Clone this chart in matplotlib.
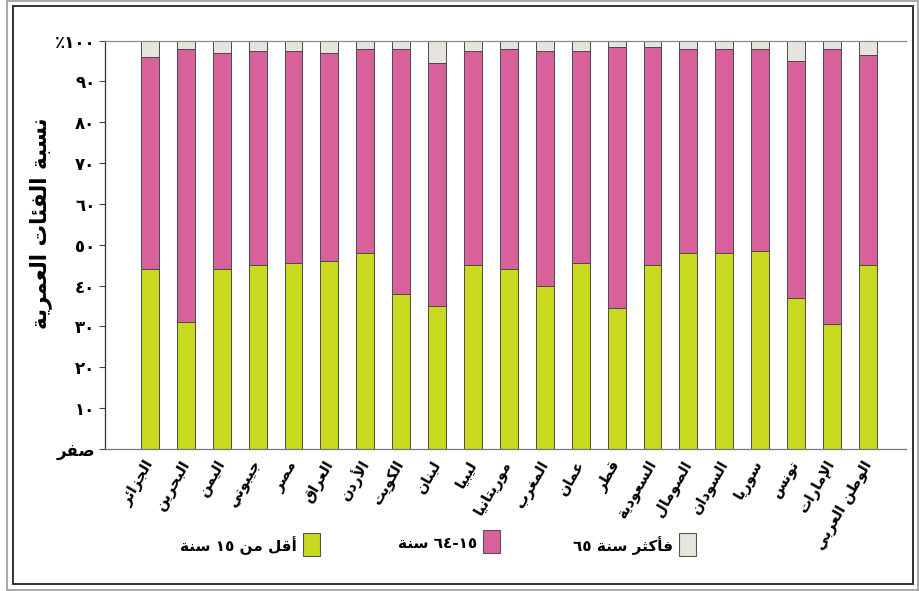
import re
import matplotlib
matplotlib.use('Agg')
import matplotlib.pyplot as plt
from matplotlib.patches import Rectangle

# age structure of the Arab countries, % of population
countries = ['الجزائر', 'البحرين', 'اليمن', 'جيبوتي', 'مصر', 'العراق', 'الأردن',
             'الكويت', 'لبنان', 'ليبيا', 'موريتانيا', 'المغرب', 'عمان', 'قطر',
             'السعودية', 'الصومال', 'السودان', 'سوريا', 'تونس', 'الإمارات',
             'الوطن العربي']
under15 = [44, 31, 44, 45, 45.5, 46, 48, 38, 35, 45, 44, 40, 45.5, 34.5,
           45, 48, 48, 48.5, 37, 30.5, 45]
age15_64 = [52, 67, 53, 52.5, 52, 51, 50, 60, 59.5, 52.5, 54, 57.5, 52, 64,
            53.5, 50, 50, 49.5, 58, 67.5, 51.5]
over65 = [4, 2, 3, 2.5, 2.5, 3, 2, 2, 5.5, 2.5, 2, 2.5, 2.5, 1.5,
          1.5, 2, 2, 2, 5, 2, 3.5]
ytick_vals = [0, 10, 20, 30, 40, 50, 60, 70, 80, 90, 100]
ytick_labels = ['صفر', '١٠', '٢٠', '٣٠', '٤٠', '٥٠', '٦٠', '٧٠', '٨٠', '٩٠', '١٠٠٪']
ylabel = 'نسبة الفئات العمرية'
legend_labels = ['أقل من ١٥ سنة', '١٥-٦٤ سنة', '٦٥ سنة فأكثر']

GREEN = '#c8d91f'
PINK = '#d9619b'
GREY = '#e7e3dd'

# ---- minimal arabic shaping (matplotlib has no bidi / joining) ----
# letter -> (first presentation form, number of forms); 2 = joins to the right only
FORMS = {
    'ء': (0xFE80, 1), 'آ': (0xFE81, 2), 'أ': (0xFE83, 2), 'ؤ': (0xFE85, 2),
    'إ': (0xFE87, 2), 'ئ': (0xFE89, 4), 'ا': (0xFE8D, 2), 'ب': (0xFE8F, 4),
    'ة': (0xFE93, 2), 'ت': (0xFE95, 4), 'ث': (0xFE99, 4), 'ج': (0xFE9D, 4),
    'ح': (0xFEA1, 4), 'خ': (0xFEA5, 4), 'د': (0xFEA9, 2), 'ذ': (0xFEAB, 2),
    'ر': (0xFEAD, 2), 'ز': (0xFEAF, 2), 'س': (0xFEB1, 4), 'ش': (0xFEB5, 4),
    'ص': (0xFEB9, 4), 'ض': (0xFEBD, 4), 'ط': (0xFEC1, 4), 'ظ': (0xFEC5, 4),
    'ع': (0xFEC9, 4), 'غ': (0xFECD, 4), 'ف': (0xFED1, 4), 'ق': (0xFED5, 4),
    'ك': (0xFED9, 4), 'ل': (0xFEDD, 4), 'م': (0xFEE1, 4), 'ن': (0xFEE5, 4),
    'ه': (0xFEE9, 4), 'و': (0xFEED, 2), 'ى': (0xFEEF, 2), 'ي': (0xFEF1, 4),
}
LAM_ALEF = {'آ': 0xFEF5, 'أ': 0xFEF7, 'إ': 0xFEF9, 'ا': 0xFEFB}


def shape(word):
    units = []
    i = 0
    while i < len(word):
        c = word[i]
        if c == 'ل' and i + 1 < len(word) and word[i + 1] in LAM_ALEF:
            units.append((LAM_ALEF[word[i + 1]], 2))
            i += 2
            continue
        units.append(FORMS.get(c, (c, 0)))
        i += 1
    out = []
    for k, (base, n) in enumerate(units):
        if n == 0:
            out.append(base)
            continue
        prev = k > 0 and units[k - 1][1] == 4
        nxt = n == 4 and k + 1 < len(units) and units[k + 1][1] >= 2
        if n == 1:
            off = 0
        elif prev and nxt:
            off = 3
        elif prev:
            off = 1
        elif nxt:
            off = 2
        else:
            off = 0
        out.append(chr(base + off))
    return ''.join(out)


def rtl(text):
    parts = re.findall(r'\d+|\D+', shape(text))
    return ''.join(p if p[0].isdigit() else p[::-1] for p in reversed(parts))


plt.rcParams['font.family'] = ['DejaVu Sans']
plt.rcParams['font.weight'] = 'bold'

W, H = 920, 591
fig = plt.figure(figsize=(W / 100, H / 100), dpi=100)
ax = fig.add_axes([105 / W, 1 - 449 / H, 801 / W, 408.5 / H])

x = list(range(len(countries)))
bottom2 = under15
bottom3 = [a + b for a, b in zip(under15, age15_64)]
kw = dict(width=0.5, edgecolor='#4a4a4a', linewidth=0.7)
ax.bar(x, under15, color=GREEN, **kw)
ax.bar(x, age15_64, bottom=bottom2, color=PINK, **kw)
ax.bar(x, over65, bottom=bottom3, color=GREY, **kw)

ax.set_xlim(-1.25, len(countries) - 1 + 1.06)
ax.set_ylim(0, 100)
ax.spines['right'].set_visible(False)
ax.spines['left'].set_color('#333333')
ax.spines['top'].set_color('#8a8a8a')
ax.spines['bottom'].set_color('#777777')
for s in ax.spines.values():
    s.set_linewidth(0.9)

ax.set_yticks(ytick_vals)
ax.set_yticklabels([rtl(t) for t in ytick_labels], fontsize=12)
ax.tick_params(axis='y', length=4, width=0.8, color='#444444', pad=3)
ax.set_xticks(x)
ax.set_xticklabels([rtl(c) for c in countries], rotation=60, ha='right',
                   va='center', rotation_mode='anchor', fontsize=10.5)
ax.tick_params(axis='x', length=0, pad=9)

fig.text(41 / W, 1 - 223 / H, rtl(ylabel), rotation=90, ha='center',
         va='center', fontsize=15.5)

# legend along the bottom, label to the left of each box
legend_boxes = [(303, 533), (483, 530), (679, 533)]
for color, label, (bx, by) in zip([GREEN, PINK, GREY], legend_labels, legend_boxes):
    fig.patches.append(Rectangle((bx / W, 1 - (by + 23) / H), 17 / W, 23 / H,
                                 transform=fig.transFigure, facecolor=color,
                                 edgecolor='#555555', linewidth=0.8))
    if color == GREY:
        txt = ' '.join(rtl(w) for w in label.split())
    else:
        txt = rtl(label)
    fig.text((bx - 6) / W, 1 - (by + 13) / H, txt, ha='right', va='center',
             fontsize=11)

# double frame around the picture
fig.patches.append(Rectangle((7 / W, 1 - 590 / H), 911 / W, 589 / H,
                             transform=fig.transFigure, fill=False,
                             edgecolor='#9a9a9a', linewidth=1.2))
fig.patches.append(Rectangle((13 / W, 1 - 584 / H), 900 / W, 578 / H,
                             transform=fig.transFigure, fill=False,
                             edgecolor='#333333', linewidth=1.4))

fig.savefig('out.png', dpi=100)
